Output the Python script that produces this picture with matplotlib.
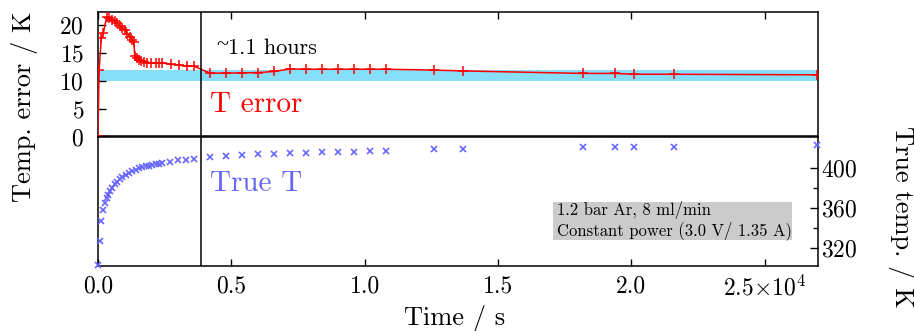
import numpy as np
import matplotlib
matplotlib.use("Agg")
import matplotlib.pyplot as plt
from matplotlib.patches import Rectangle

plt.rcParams['font.family'] = 'serif'
plt.rcParams['font.serif'] = ['cmr10']
plt.rcParams['mathtext.fontset'] = 'cm'
plt.rcParams['axes.formatter.use_mathtext'] = True

# temperature error (top panel)
t_err = [0, 40, 125, 200, 325, 410, 535, 625, 725, 825, 910, 1000, 1100, 1200,
         1285, 1350, 1375, 1450, 1540, 1625, 1725, 1850, 2000, 2165, 2285, 2410,
         2725, 3040, 3325, 3600,
         4200, 4800, 5400, 6000, 6600, 7200, 7800, 8400, 9000, 9600, 10200, 10800,
         12600, 13680, 18180, 19380, 20100, 21600, 26960]
err = [0, 11.9, 17.7, 18.6, 21.5, 21.3, 21.0, 20.7, 20.4, 19.9, 19.5, 19.1, 18.5, 17.9,
       17.4, 17.0, 14.5, 14.1, 13.8, 13.6, 13.45, 13.3, 13.25, 13.25, 13.25, 13.25,
       13.0, 12.85, 12.7, 12.65,
       11.4, 11.4, 11.45, 11.5, 11.7, 12.15, 12.1, 12.1, 12.1, 12.1, 12.1, 12.1,
       11.95, 11.8, 11.35, 11.35, 11.2, 11.2, 11.1]

# true temperature (bottom panel)
t_true = [0, 65, 125, 200, 250, 325, 375, 450, 535, 625, 725, 825, 910, 1040, 1165,
          1285, 1415, 1540, 1660, 1790, 1910, 2035, 2165, 2285, 2410, 2700, 3000,
          3290, 3600,
          4200, 4800, 5400, 6000, 6600, 7200, 7800, 8400, 9000, 9600, 10200, 10800,
          12600, 13680, 18180, 19380, 20100, 21600, 26960]
true_T = [303.3, 327.3, 347.3, 358.3, 365, 370, 373.3, 376.6, 380, 383.3, 386, 388.3,
          390.6, 392.6, 394.6, 396.6, 398, 399.3, 400.3, 401.3, 402, 402.6, 403.3,
          404, 404.6, 406, 407.3, 408, 408.6,
          410.6, 411.6, 413, 413.3, 414, 414.3, 415, 415.3, 415.6, 416, 416.3, 416.8,
          418.3, 418.3, 420.3, 420.3, 421, 421, 422.3]

band = (10, 12)
t_mark = 3870
xticks = [0, 5000, 10000, 15000, 20000, 25000]
xticklabels = ['0.0', '0.5', '1.0', '1.5', '2.0', r'2.5$\times$10$^4$']

fig = plt.figure(figsize=(9.14, 3.31), dpi=100)
L, R = 98 / 914, 818 / 914
ax1 = fig.add_axes([L, 1 - 136.5 / 331, R - L, (136.5 - 12) / 331])
ax2 = fig.add_axes([L, 1 - 266 / 331, R - L, (266 - 136.5) / 331])

fs = 17
for ax in (ax1, ax2):
    ax.set_xlim(0, 27000)
    ax.set_xticks(xticks)
    for s in ax.spines.values():
        s.set_linewidth(1.1)

# top panel
ax1.axhspan(band[0], band[1], color='#87DEF9', lw=0, zorder=1)
ax1.plot(t_err, err, color='red', lw=1.1, marker='+', ms=7, mew=1.1, zorder=3)
ax1.axvline(t_mark, color='black', lw=1.1, zorder=4)
ax1.set_ylim(0, 22.4)
ax1.set_yticks([0, 5, 10, 15, 20])
ax1.tick_params(axis='y', direction='in', length=6, width=1, labelsize=fs, pad=10)
ax1.tick_params(axis='x', direction='in', length=5, width=1, top=True, bottom=False,
                labelbottom=False)
ax1.text(4450, 16.3, '~', fontsize=16, family='Liberation Serif', va='center', ha='left')
ax1.text(4880, 15.9, '1.1 hours', fontsize=16, va='center', ha='left')
ax1.text(4200, 5.7, 'T error', fontsize=21, color='red', va='center', ha='left')

# bottom panel
ax2.plot(t_true, true_T, ls='none', marker='x', ms=4.5, mew=1.2, color='#6666FF',
         clip_on=False, zorder=3)
ax2.axvline(t_mark, color='black', lw=1.1, zorder=4)
ax2.set_ylim(302.3, 431)
ax2.yaxis.tick_right()
ax2.set_yticks([320, 360, 400])
ax2.set_yticks([340, 380], minor=True)
ax2.tick_params(axis='y', which='major', direction='in', length=6, width=1,
                labelsize=fs, pad=2.5, left=False)
ax2.tick_params(axis='y', which='minor', direction='in', length=3.5, width=1, left=False)
ax2.tick_params(axis='x', direction='in', length=5, width=1, labelsize=fs, pad=7)
ax2.set_xticklabels(xticklabels)
ax2.text(4200, 384, 'True T', fontsize=21, color='#6666FF', va='center', ha='left')

ax2.add_patch(Rectangle((0.6315, 0.2016), (791.7 - 552.7) / 720, 0.2964,
                        transform=ax2.transAxes, facecolor='#CBCBCB',
                        edgecolor='none', zorder=2))
ax2.text(0.6375, 0.35, '1.2 bar Ar, 8 ml/min\nConstant power (3.0 V/ 1.35 A)',
         transform=ax2.transAxes, fontsize=12, va='center', ha='left',
         linespacing=1.15, zorder=3)

fig.text(455 / 914, 1 - 318 / 331, 'Time / s', fontsize=19, ha='center', va='center')
fig.text(25 / 914, 1 - 107 / 331, 'Temp. error / K', fontsize=19, rotation=90,
         ha='center', va='center')
fig.text(902 / 914, 1 - 217 / 331, 'True temp. / K', fontsize=19, rotation=270,
         ha='center', va='center')

fig.savefig('out.png', dpi=100)
